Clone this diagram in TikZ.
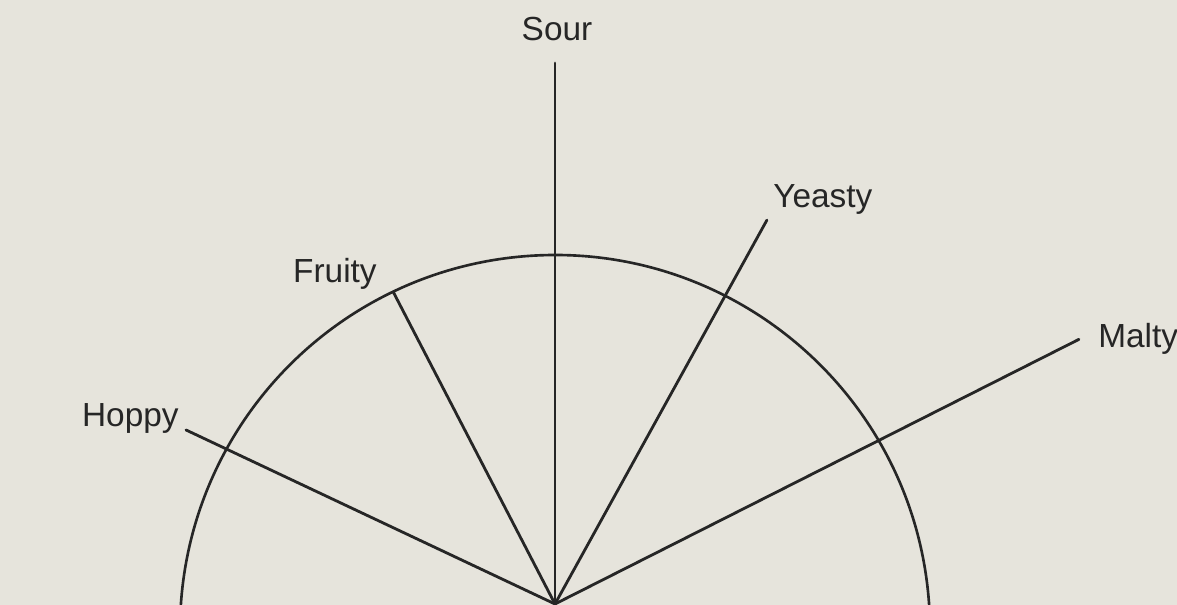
\documentclass[tikz,border=0pt]{standalone}
\usepackage{fontspec}
\setmainfont{Liberation Sans}
\usepackage{xcolor}
\definecolor{paperTone}{HTML}{E6E4DC}
\definecolor{inkDark}{HTML}{262626}
\usepackage{tikz}
\usetikzlibrary{
    positioning,
    calc
}
\tikzset{
    % Spokes of the flavour wheel
    spoke/.style={
        draw=inkDark,
        line width=1.6pt,
        line cap=round,
    },
    % The half circle
    rim/.style={
        draw=inkDark,
        line width=1.5pt,
    },
    % Flavour labels
    flavour/.style={
        font=\fontsize{19}{23}\selectfont,
        text=inkDark,
        inner sep=0pt,
    },
}

\begin{document}
\begin{tikzpicture}
    % canvas, same proportions as the reference
    \fill[paperTone] (-11.1,-0.02) rectangle (12.44,12.08);
    \useasboundingbox (-11.1,-0.02) rectangle (12.44,12.08);

    \coordinate (hub) at (0,0);
    \coordinate (rimcentre) at (0,-0.52);

    \coordinate (sourEnd) at (90:10.82);
    \coordinate (yeastyEnd) at (61.1:8.77);
    \coordinate (maltyEnd) at (26.8:11.74);
    \coordinate (fruityEnd) at (117.4:7.03);
    \coordinate (hoppyEnd) at (154.75:8.16);

    \node (sour) [flavour, anchor=base] at (0.04,11.26) {Sour};
    \node (yeasty) [flavour, anchor=base west] at (4.36,7.92) {Yeasty};
    \node (malty) [flavour, anchor=base west] at (10.86,5.12) {Malty};
    \node (fruity) [flavour, anchor=base east] at (-3.56,6.42) {Fruity};
    \node (hoppy) [flavour, anchor=base east] at (-7.52,3.54) {Hoppy};

    \draw [rim] (rimcentre) ++(3.8:7.5) arc[start angle=3.8, end angle=176.2, radius=7.5];

    \draw [spoke] (hub) -- (sourEnd);
    \draw [spoke] (hub) -- (yeastyEnd);
    \draw [spoke] (hub) -- (maltyEnd);
    \draw [spoke] (hub) -- (fruityEnd);
    \draw [spoke] (hub) -- (hoppyEnd);
\end{tikzpicture}
\end{document}
